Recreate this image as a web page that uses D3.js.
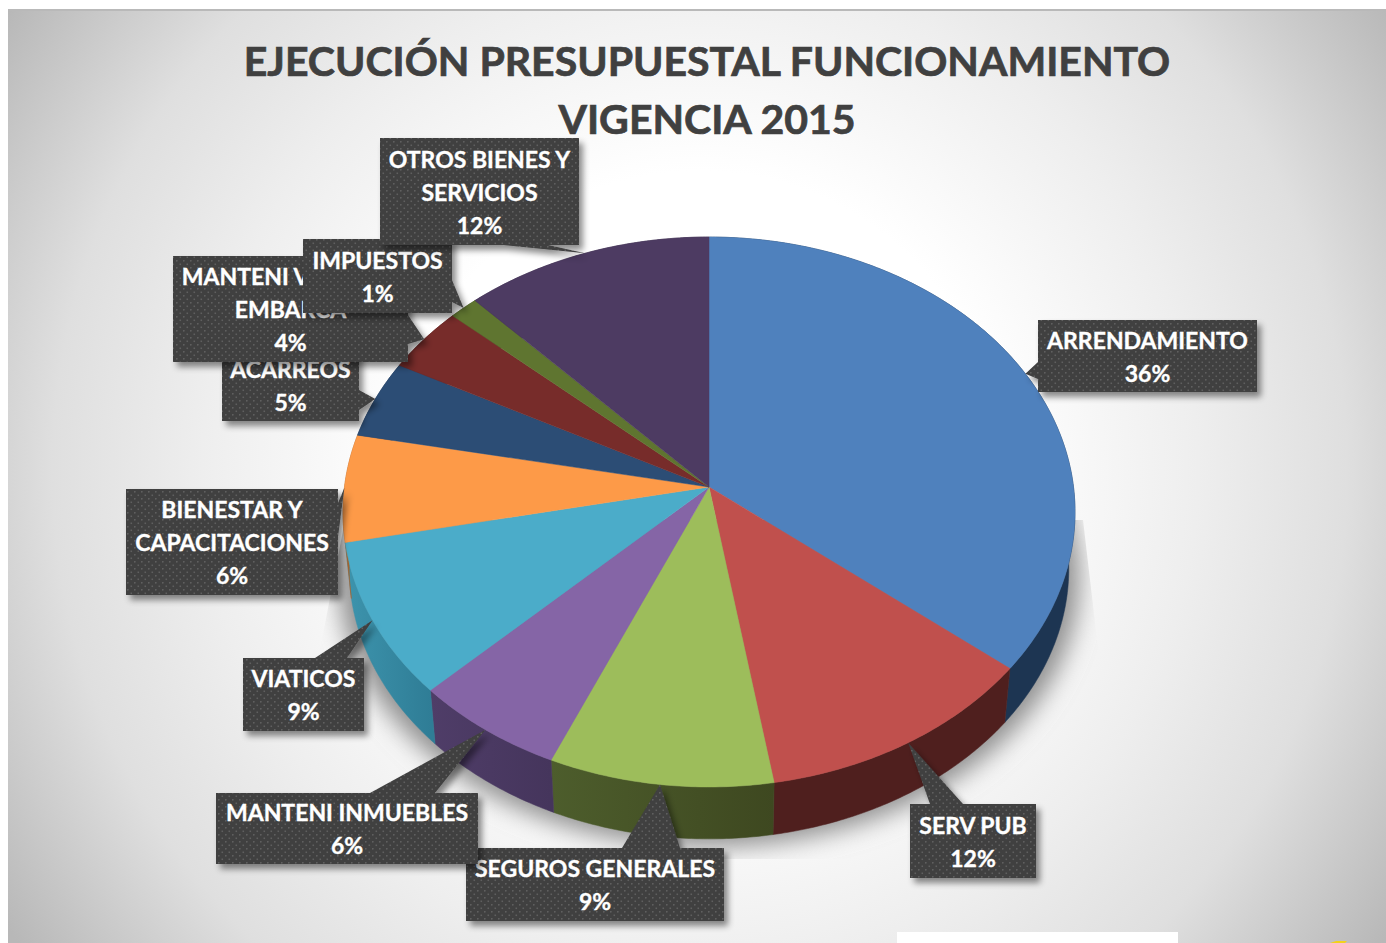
<!DOCTYPE html>
<html>
<head>
<meta charset="utf-8">
<script src="https://cdn.jsdelivr.net/npm/d3@7"></script>
<style>
  html, body { margin: 0; padding: 0; background: #fff; overflow: hidden; }
  svg { display: block; }
  text { font-family: Lato, "Open Sans", sans-serif; font-weight: 700; }
</style>
</head>
<body>
<svg id="chart" width="1386" height="943"></svg>
<script>
// datos (porcentajes)
var categorias = ["ARRENDAMIENTO", "SERV PUB", "SEGUROS GENERALES", "MANTENI INMUEBLES", "VIATICOS",
  "BIENESTAR Y CAPACITACIONES", "ACARREOS", "MANTENI VEHICU Y EMBARCA", "IMPUESTOS", "OTROS BIENES Y SERVICIOS"]
var valores = [35.8, 11.6, 9.1, 6.2, 9.1, 6.3, 4.6, 3.9, 1.4, 12.0]
var lineas = [["ARRENDAMIENTO"], ["SERV PUB"], ["SEGUROS GENERALES"], ["MANTENI INMUEBLES"], ["VIATICOS"],
  ["BIENESTAR Y", "CAPACITACIONES"], ["ACARREOS"], ["MANTENI VEHICU Y", "EMBARCA"], ["IMPUESTOS"], ["OTROS BIENES Y", "SERVICIOS"]]
var titulo = ["EJECUCIÓN PRESUPUESTAL FUNCIONAMIENTO", "VIGENCIA 2015"]

// colores
var colores = ["#4f81bd", "#c0504d", "#9dbd5b", "#8565a6", "#4bacc9", "#fd9a48", "#2c4d75", "#772c2a", "#5f7530", "#4d3b62"]
var lateralA = ["#1d3552", "#4f1f1e", "#4d5d2c", "#4f3d68", "#3d94ad", "#a5622c", "#1d3552", "#4f1d1c", "#3f4e20", "#33273f"]
var lateralB = ["#1d3552", "#4f1f1e", "#3e4820", "#45355c", "#2f7d96", "#a5622c", "#1d3552", "#4f1d1c", "#3f4e20", "#33273f"]

// cajas de las etiquetas: posicion y base del puntero, el orden es el de categorias
var cajas = [
  {x: 1038, y: 320, w: 219, h: 72, base: [[1038, 362], [1038, 379]]},
  {x: 910, y: 804, w: 126, h: 74, base: [[930, 804], [963, 804]]},
  {x: 466, y: 848, w: 258, h: 73, base: [[622, 848], [680, 848]]},
  {x: 216, y: 793, w: 262, h: 71, base: [[370, 793], [435, 793]]},
  {x: 243, y: 658, w: 121, h: 73, base: [[315, 658], [347, 658]]},
  {x: 126, y: 489, w: 212, h: 106, base: [[338, 503], [338, 537]]},
  {x: 222, y: 349, w: 137, h: 72, base: [[359, 390], [359, 410]]},
  {x: 173, y: 256, w: 235, h: 106, base: [[408, 315], [408, 344]]},
  {x: 303, y: 239, w: 149, h: 74, base: [[452, 280], [452, 302]]},
  {x: 380, y: 138, w: 199, h: 107, base: [[503, 245], [548, 245]]}
]

var svg = d3.select("#chart")
var defs = svg.append("defs")

var cx = 709, cy = 487, rx = 364.5, ry = 272.7, k = -1 / 11
var escalaBase = 0.983, altura = 57

// proyeccion en perspectiva del disco: el vertice queda arriba del centro de la elipse
function proy (a) {
  var X = Math.sin(a), Y = -Math.cos(a), w = 1 + k * Y
  return [cx + rx * X / w, cy + ry * Y / w]
}
function proyBase (a) {
  var p = proy(a)
  return [cx + (p[0] - cx) * escalaBase, cy + (p[1] - cy) * escalaBase + altura]
}
function tramo (a0, a1, f) {
  var n = Math.max(2, Math.ceil((a1 - a0) / 0.01))
  return d3.range(n + 1).map(function (i) { return f(a0 + (a1 - a0) * i / n) })
}

var linea = d3.line()
var pie = d3.pie().sort(null).value(function (d) { return d })
var arcos = pie(valores)

// fondo
var fondo = defs.append("radialGradient").attr("id", "fondo")
  .attr("gradientUnits", "userSpaceOnUse")
  .attr("cx", 700).attr("cy", 470).attr("r", 830)
fondo.append("stop").attr("offset", "0").attr("stop-color", "#ffffff")
fondo.append("stop").attr("offset", "0.36").attr("stop-color", "#ffffff")
fondo.append("stop").attr("offset", "0.6").attr("stop-color", "#eeeeee")
fondo.append("stop").attr("offset", "0.78").attr("stop-color", "#dfdfdf")
fondo.append("stop").attr("offset", "1").attr("stop-color", "#b8b8b8")

svg.append("rect").attr("x", 8).attr("y", 10).attr("width", 1378).attr("height", 933).attr("fill", "url(#fondo)")
svg.append("rect").attr("x", 8).attr("y", 9).attr("width", 1378).attr("height", 2).attr("fill", "#b9b9b9")

// sombra de la torta
defs.append("filter").attr("id", "blurTorta")
  .attr("x", "-20%").attr("y", "-20%").attr("width", "140%").attr("height", "140%")
  .append("feGaussianBlur").attr("stdDeviation", 12)
defs.append("clipPath").attr("id", "clipSombra").append("polygon")
  .attr("points", "345,520 320,650 320,859 1100,859 1100,665 1083,520")
svg.append("g").attr("clip-path", "url(#clipSombra)")
  .append("path")
  .attr("d", linea(tramo(0, 2 * Math.PI, function (a) {
    var p = proyBase(a)
    return [cx + (p[0] - cx) * 1.03, p[1] + 8]
  })))
  .attr("fill", "#8f8f8f")
  .attr("filter", "url(#blurTorta)")

// paredes laterales
var paredes = svg.append("g")
arcos.forEach(function (d, i) {
  var sup = tramo(d.startAngle, d.endAngle, proy)
  var inf = tramo(d.startAngle, d.endAngle, proyBase).reverse()
  var xs = d3.extent(sup, function (p) { return p[0] })
  var g = defs.append("linearGradient").attr("id", "lateral" + i)
    .attr("gradientUnits", "userSpaceOnUse")
    .attr("x1", xs[0]).attr("x2", xs[1]).attr("y1", 0).attr("y2", 0)
  g.append("stop").attr("offset", "0").attr("stop-color", lateralA[i])
  g.append("stop").attr("offset", "1").attr("stop-color", lateralB[i])
  paredes.append("path")
    .attr("d", linea(sup.concat(inf)) + "Z")
    .attr("fill", "url(#lateral" + i + ")")
    .attr("stroke", "url(#lateral" + i + ")")
    .attr("stroke-width", 0.5)
})

// cara superior
svg.append("g").selectAll("path")
  .data(arcos)
  .enter().append("path")
  .attr("d", function (d) {
    return linea([[cx, cy]].concat(tramo(d.startAngle, d.endAngle, proy))) + "Z"
  })
  .attr("fill", function (d, i) { return colores[i] })
  .attr("stroke", function (d, i) { return colores[i] })
  .attr("stroke-width", 0.5)

// titulo
svg.append("g").selectAll("text")
  .data(titulo)
  .enter().append("text")
  .attr("x", 707)
  .attr("y", function (d, i) { return 76 + i * 58 })
  .attr("text-anchor", "middle")
  .attr("font-size", 41)
  .attr("fill", "#404040")
  .attr("stroke", "#404040")
  .attr("stroke-width", 0.7)
  .text(function (d) { return d })

// etiquetas
var trama = defs.append("pattern").attr("id", "trama")
  .attr("patternUnits", "userSpaceOnUse").attr("width", 7).attr("height", 7)
trama.append("rect").attr("width", 7).attr("height", 7).attr("fill", "#3f3f3f")
trama.append("rect").attr("x", 1).attr("y", 1).attr("width", 1.6).attr("height", 1.6).attr("fill", "#5e5e5e")
trama.append("rect").attr("x", 4.5).attr("y", 4.5).attr("width", 1.6).attr("height", 1.6).attr("fill", "#5e5e5e")

var sombra = defs.append("filter").attr("id", "sombraCaja")
  .attr("x", "-20%").attr("y", "-20%").attr("width", "140%").attr("height", "140%")
sombra.append("feDropShadow")
  .attr("dx", 4).attr("dy", 5).attr("stdDeviation", 3)
  .attr("flood-color", "#000").attr("flood-opacity", 0.45)

var fmt = d3.format(".0f")

valores.forEach(function (v, i) {
  var c = cajas[i]
  var arco = arcos[i]
  var punta = proy((arco.startAngle + arco.endAngle) / 2)
  var g = svg.append("g").attr("class", "etiqueta")

  g.append("path")
    .attr("d", "M" + c.x + "," + c.y + "H" + (c.x + c.w) + "V" + (c.y + c.h) + "H" + c.x + "Z" +
      "M" + c.base[0] + "L" + punta + "L" + c.base[1] + "Z")
    .attr("fill", "url(#trama)")
    .attr("filter", "url(#sombraCaja)")

  var textos = lineas[i].concat([fmt(v) + "%"])
  var alto = 33
  var y0 = c.y + c.h / 2 - (textos.length - 1) * alto / 2 + 9

  g.selectAll("text")
    .data(textos)
    .enter().append("text")
    .attr("x", c.x + c.w / 2)
    .attr("y", function (d, j) { return y0 + j * alto })
    .attr("text-anchor", "middle")
    .attr("font-size", 23)
    .attr("fill", "#ffffff")
    .attr("stroke", "#ffffff")
    .attr("stroke-width", 0.35)
    .text(function (d) { return d })
})

// recortes que aparecen abajo en la captura
svg.append("rect").attr("x", 897).attr("y", 932).attr("width", 281).attr("height", 11).attr("fill", "#ffffff")
svg.append("path").attr("d", "M1330,943L1336,941L1347,941L1345,943Z").attr("fill", "#f2d21b")
</script>
</body>
</html>
